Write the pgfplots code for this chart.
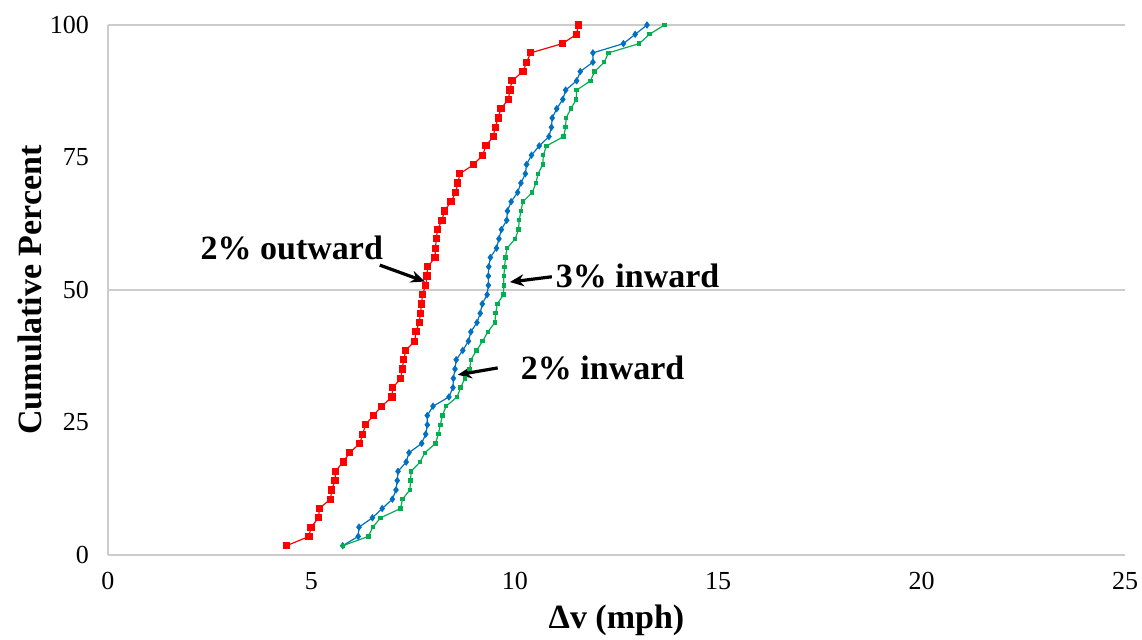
\documentclass[border=0pt]{standalone}
\usepackage{pgfplots}
\pgfplotsset{compat=1.18}
\usepackage{pgfplotstable}
\usepackage{fontspec}
\setmainfont{Liberation Serif}
\usetikzlibrary{arrows.meta}
\definecolor{cred}{RGB}{255,0,0}
\definecolor{cblue}{RGB}{0,112,192}
\definecolor{cgreen}{RGB}{0,176,80}

\pgfplotstableread{
y      red    blue   green
1.75   4.39   5.77   5.77
3.51   4.94   6.15   6.40
5.26   4.99   6.17   6.51
7.02   5.18   6.50   6.70
8.77   5.19   6.74   7.19
10.53  5.47   6.99   7.24
12.28  5.50   7.08   7.42
14.04  5.58   7.11   7.44
15.79  5.59   7.13   7.45
17.54  5.78   7.33   7.67
19.30  5.94   7.40   7.79
21.05  6.19   7.71   8.05
22.81  6.26   7.81   8.12
24.56  6.33   7.85   8.17
26.32  6.52   7.85   8.22
28.07  6.73   7.99   8.31
29.82  6.98   8.38   8.58
31.58  7.00   8.48   8.67
33.33  7.20   8.49   8.77
35.09  7.23   8.53   8.89
36.84  7.27   8.56   8.92
38.60  7.32   8.72   9.06
40.35  7.54   8.86   9.21
42.11  7.57   8.92   9.34
43.86  7.65   9.07   9.51
45.61  7.68   9.15   9.53
47.37  7.71   9.20   9.57
49.12  7.73   9.32   9.72
50.88  7.81   9.35   9.73
52.63  7.84   9.35   9.73
54.39  7.86   9.36   9.75
56.14  8.04   9.40   9.77
57.89  8.05   9.55   9.81
59.65  8.07   9.61   10.01
61.40  8.10   9.67   10.09
63.16  8.21   9.80   10.11
64.91  8.27   9.82   10.15
66.67  8.43   9.91   10.20
68.42  8.55   10.07  10.43
70.18  8.60   10.15  10.52
71.93  8.65   10.26  10.57
73.68  8.99   10.29  10.69
75.44  9.21   10.41  10.70
77.19  9.29   10.60  10.78
78.95  9.47   10.84  11.20
80.70  9.52   10.90  11.25
82.46  9.59   10.92  11.26
84.21  9.66   11.03  11.38
85.96  9.84   11.18  11.51
87.72  9.88   11.25  11.52
89.47  9.93   11.52  11.86
91.23  10.20  11.61  11.96
92.98  10.29  11.92  12.20
94.74  10.39  11.92  12.30
96.49  11.17  12.67  13.06
98.25  11.52  12.96  13.31
100.00 11.56  13.25  13.68
}\data

\begin{document}
\begin{tikzpicture}
\begin{axis}[name=ax, scale only axis, width=508.5pt, height=265pt,
  xmin=0, xmax=25, ymin=0, ymax=100,
  xtick={0,5,...,25}, ytick={0,25,...,100},
  axis x line=bottom, axis y line=left,
  axis line style={-, draw=gray!40, line width=0.6pt},
  major tick length=0pt,
  extra y ticks={50,100}, extra y tick labels={},
  extra y tick style={grid=major, major grid style={draw=gray!40, line width=0.6pt}},
  /pgf/number format/assume math mode=true,
  tick label style={font=\fontsize{13}{15}\selectfont},
  xticklabel style={yshift=-5pt},
  yticklabel style={xshift=-6pt},
  xlabel={Δv (mph)}, ylabel={Cumulative Percent},
  label style={font=\fontsize{17}{20}\selectfont\bfseries},
  xlabel style={at={(axis description cs:0.5,-0.1226)}, anchor=center},
  ylabel style={at={(axis description cs:-0.0767,0.5)}, anchor=center},
  clip=false,
]
\addplot[cred, line width=0.6pt, mark=square*, mark size=1.5pt] table[x=red, y=y]{\data};
\addplot[cblue, line width=0.6pt, mark=diamond*, mark size=1.4pt] table[x=blue, y=y]{\data};
\addplot[cgreen, line width=0.6pt, mark=square*, mark size=0.8pt] table[x=green, y=y]{\data};

\node[font=\fontsize{17}{20}\selectfont\bfseries] at (axis cs:4.52,57.9) {2\% outward};
\draw[-{Stealth[length=7pt,width=6pt]}, line width=1.6pt] (axis cs:6.68,54.7) -- (axis cs:7.79,51.6);
\node[font=\fontsize{17}{20}\selectfont\bfseries] at (axis cs:13.02,52.6) {3\% inward};
\draw[-{Stealth[length=7pt,width=6pt]}, line width=1.6pt] (axis cs:10.91,52.5) -- (axis cs:9.88,51.5);
\node[font=\fontsize{17}{20}\selectfont\bfseries] at (axis cs:12.16,35.3) {2\% inward};
\draw[-{Stealth[length=7pt,width=6pt]}, line width=1.6pt] (axis cs:9.58,35.3) -- (axis cs:8.60,34.0);
\end{axis}
\pgfresetboundingbox
\path ([shift={(-54pt,-42pt)}]ax.south west) rectangle ([shift={(8.5pt,12.5pt)}]ax.north east);
\end{tikzpicture}
\end{document}
